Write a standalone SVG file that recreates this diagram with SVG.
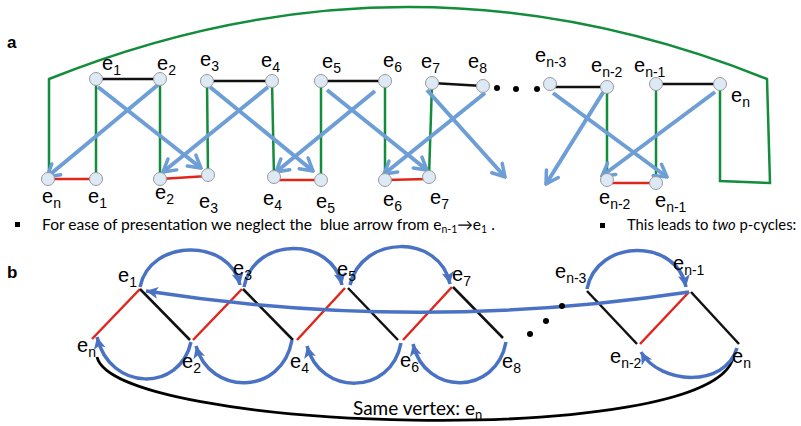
<svg xmlns="http://www.w3.org/2000/svg" width="801" height="426" viewBox="0 0 801 426">
<style>
.lbl{font-family:"Liberation Sans",Arial,sans-serif;font-size:20px;fill:#000}
.sub{font-size:14px}
.panel{font-family:"Liberation Sans",Arial,sans-serif;font-size:17px;font-weight:bold;fill:#000}
.body{font-family:Lato,"Open Sans",sans-serif;font-size:15.6px;fill:#000;white-space:pre}
.nd{fill:#dde9f5;stroke:#9a9a9a;stroke-width:1}
.blk{stroke:#111;stroke-width:2.5;fill:none}
.red{stroke:#e0261c;stroke-width:2.5;fill:none}
.grn{stroke:#138c3c;stroke-width:2.5;fill:none}
.ba{stroke:#6e9ed6;stroke-width:4;fill:none;marker-end:url(#va)}
.bb{stroke:#4a72c4;stroke-width:3.5;fill:none;marker-end:url(#tb)}
</style>
<defs>
<marker id="va" viewBox="-14 -9 16 18" refX="0" refY="0" markerWidth="16" markerHeight="18" markerUnits="userSpaceOnUse" orient="auto">
<path d="M-12,-7 L0,0 L-12,7" fill="none" stroke="#6e9ed6" stroke-width="3.5" stroke-linecap="round"/>
</marker>
<marker id="tb" viewBox="-13 -7 14 14" refX="0" refY="0" markerWidth="14" markerHeight="14" markerUnits="userSpaceOnUse" orient="auto">
<path d="M-12,-6 L0,0 L-12,6 L-9,0 z" fill="#4a72c4"/>
</marker>
</defs>
<rect width="801" height="426" fill="#fff"/>

<text class="panel" x="7" y="48">a</text>
<text class="panel" x="7" y="278">b</text>

<g id="connectors">
  <!-- panel a -->
  <path class="grn" d="M720,84 L720,181 L770,183 L767,79 Q408,-65 49,79 L49,177"/>
  <line class="grn" x1="96" y1="79" x2="96" y2="179"/>
  <line class="grn" x1="160" y1="79" x2="160" y2="179"/>
  <line class="grn" x1="207" y1="81" x2="208" y2="174"/>
  <line class="grn" x1="272" y1="81" x2="274" y2="177"/>
  <line class="grn" x1="321" y1="81" x2="321" y2="180"/>
  <line class="grn" x1="385" y1="81" x2="385" y2="180"/>
  <line class="grn" x1="432" y1="83" x2="429" y2="177"/>
  <line class="grn" x1="607" y1="87" x2="607" y2="180"/>
  <line class="grn" x1="656" y1="84" x2="656" y2="183"/>
  <line class="blk" x1="96" y1="79" x2="160" y2="79"/>
  <line class="blk" x1="207" y1="81" x2="272" y2="81"/>
  <line class="blk" x1="321" y1="81" x2="385" y2="81"/>
  <line class="blk" x1="432" y1="83" x2="483" y2="86"/>
  <line class="blk" x1="550" y1="87" x2="607" y2="87"/>
  <line class="blk" x1="656" y1="84" x2="720" y2="84"/>
  <line class="red" x1="48" y1="179" x2="96" y2="179"/>
  <line class="red" x1="160" y1="179" x2="208" y2="176"/>
  <line class="red" x1="274" y1="180" x2="321" y2="180"/>
  <line class="red" x1="385" y1="180" x2="429" y2="179"/>
  <line class="red" x1="607" y1="183" x2="656" y2="183"/>
  <line class="ba" x1="159" y1="84" x2="47" y2="177"/>
  <line class="ba" x1="98" y1="87" x2="201" y2="168"/>
  <line class="ba" x1="268" y1="87" x2="163" y2="172"/>
  <line class="ba" x1="210" y1="87" x2="313" y2="171"/>
  <line class="ba" x1="375" y1="91" x2="276" y2="172"/>
  <line class="ba" x1="327" y1="90" x2="427" y2="170"/>
  <line class="ba" x1="485" y1="93" x2="384" y2="174"/>
  <line class="ba" x1="427" y1="90" x2="505" y2="177"/>
  <line class="ba" x1="604" y1="91" x2="546" y2="184"/>
  <line class="ba" x1="553" y1="93" x2="667" y2="177"/>
  <line class="ba" x1="715" y1="92" x2="602" y2="176"/>
  <!-- panel b -->
  <path d="M97,357 C115,432 710,450 733,358" fill="none" stroke="#000" stroke-width="2.8"/>
  <line class="red" x1="92" y1="339" x2="140" y2="289"/>
  <line class="blk" x1="140" y1="289" x2="190" y2="340"/>
  <line class="red" x1="193" y1="340" x2="242" y2="289"/>
  <line class="blk" x1="243" y1="289" x2="293" y2="340"/>
  <line class="red" x1="297" y1="340" x2="345" y2="288"/>
  <line class="blk" x1="348" y1="288" x2="398" y2="340"/>
  <line class="red" x1="403" y1="340" x2="452" y2="287"/>
  <line class="blk" x1="453" y1="287" x2="503" y2="338"/>
  <line class="blk" x1="587" y1="291" x2="637" y2="344"/>
  <line class="red" x1="640" y1="344" x2="689" y2="292"/>
  <line class="blk" x1="691" y1="292" x2="739" y2="344"/>
  <path class="bb" d="M140,287 C150,238 230,238 240,285"/>
  <path class="bb" d="M244,287 C254,236 332,236 342,285"/>
  <path class="bb" d="M350,285 C362,234 440,234 450,284"/>
  <path class="bb" d="M587,289 C597,238 677,238 686,287"/>
  <path class="bb" d="M191,342 C180,392 110,392 97,337"/>
  <path class="bb" d="M292,340 C282,396 210,396 196,346"/>
  <path class="bb" d="M401,343 C391,396 320,396 307,346"/>
  <path class="bb" d="M506,342 C496,396 425,396 413,344"/>
  <path class="bb" d="M737,348 C725,388 660,385 641,352"/>
  <path class="bb" d="M689,292 Q416,333 146,291"/>
</g>

<g id="dots" fill="#000">
  <circle cx="497" cy="88" r="3"/>
  <circle cx="516" cy="89" r="3"/>
  <circle cx="537" cy="89" r="3"/>
  <circle cx="562" cy="306" r="3"/>
  <circle cx="546" cy="321" r="3"/>
  <circle cx="530" cy="334" r="3"/>
</g>

<!-- panel a nodes -->
<g id="a-e1-top"><circle class="nd" cx="96" cy="79" r="6.5"/><text class="lbl" x="102" y="70">e<tspan class="sub" dy="5">1</tspan></text></g>
<g id="a-e2-top"><circle class="nd" cx="160" cy="79" r="6.5"/><text class="lbl" x="157" y="70">e<tspan class="sub" dy="5">2</tspan></text></g>
<g id="a-e3-top"><circle class="nd" cx="207" cy="81" r="6.5"/><text class="lbl" x="200" y="66">e<tspan class="sub" dy="5">3</tspan></text></g>
<g id="a-e4-top"><circle class="nd" cx="272" cy="81" r="6.5"/><text class="lbl" x="261" y="67">e<tspan class="sub" dy="5">4</tspan></text></g>
<g id="a-e5-top"><circle class="nd" cx="321" cy="81" r="6.5"/><text class="lbl" x="322" y="68">e<tspan class="sub" dy="5">5</tspan></text></g>
<g id="a-e6-top"><circle class="nd" cx="385" cy="81" r="6.5"/><text class="lbl" x="383" y="67">e<tspan class="sub" dy="5">6</tspan></text></g>
<g id="a-e7-top"><circle class="nd" cx="432" cy="83" r="6.5"/><text class="lbl" x="421" y="68">e<tspan class="sub" dy="5">7</tspan></text></g>
<g id="a-e8-top"><circle class="nd" cx="483" cy="86" r="6.5"/><text class="lbl" x="468" y="68">e<tspan class="sub" dy="5">8</tspan></text></g>
<g id="a-en3-top"><circle class="nd" cx="550" cy="84" r="6.5"/><text class="lbl" x="535" y="62">e<tspan class="sub" dy="5">n-3</tspan></text></g>
<g id="a-en2-top"><circle class="nd" cx="607" cy="87" r="6.5"/><text class="lbl" x="591" y="72">e<tspan class="sub" dy="5">n-2</tspan></text></g>
<g id="a-en1-top"><circle class="nd" cx="656" cy="84" r="6.5"/><text class="lbl" x="634" y="72">e<tspan class="sub" dy="5">n-1</tspan></text></g>
<g id="a-en-top"><circle class="nd" cx="720" cy="84" r="6.5"/><text class="lbl" x="731" y="102">e<tspan class="sub" dy="5">n</tspan></text></g>

<g id="a-en-bot"><circle class="nd" cx="48" cy="179" r="6.5"/><text class="lbl" x="42" y="203">e<tspan class="sub" dy="5">n</tspan></text></g>
<g id="a-e1-bot"><circle class="nd" cx="96" cy="179" r="6.5"/><text class="lbl" x="88" y="203">e<tspan class="sub" dy="5">1</tspan></text></g>
<g id="a-e2-bot"><circle class="nd" cx="160" cy="179" r="6.5"/><text class="lbl" x="155" y="199">e<tspan class="sub" dy="5">2</tspan></text></g>
<g id="a-e3-bot"><circle class="nd" cx="208" cy="175" r="6.5"/><text class="lbl" x="199" y="208">e<tspan class="sub" dy="5">3</tspan></text></g>
<g id="a-e4-bot"><circle class="nd" cx="274" cy="177" r="6.5"/><text class="lbl" x="263" y="205">e<tspan class="sub" dy="5">4</tspan></text></g>
<g id="a-e5-bot"><circle class="nd" cx="321" cy="180" r="6.5"/><text class="lbl" x="316" y="208">e<tspan class="sub" dy="5">5</tspan></text></g>
<g id="a-e6-bot"><circle class="nd" cx="385" cy="180" r="6.5"/><text class="lbl" x="383" y="206">e<tspan class="sub" dy="5">6</tspan></text></g>
<g id="a-e7-bot"><circle class="nd" cx="429" cy="177" r="6.5"/><text class="lbl" x="430" y="204">e<tspan class="sub" dy="5">7</tspan></text></g>
<g id="a-en2-bot"><circle class="nd" cx="607" cy="180" r="6.5"/><text class="lbl" x="599" y="204">e<tspan class="sub" dy="5">n-2</tspan></text></g>
<g id="a-en1-bot"><circle class="nd" cx="656" cy="183" r="6.5"/><text class="lbl" x="655" y="207">e<tspan class="sub" dy="5">n-1</tspan></text></g>

<g id="notes">
  <rect x="15" y="222" width="5" height="5" fill="#000"/>
  <text class="body" x="42" y="230" xml:space="preserve">For ease of presentation we neglect the  blue arrow from e<tspan font-size="10.5" dy="3">n-1</tspan><tspan dy="-3">→e</tspan><tspan font-size="10.5" dy="3">1</tspan><tspan dy="-3"> .</tspan></text>
  <rect x="600" y="223" width="5" height="5" fill="#000"/>
  <text class="body" x="627" y="230" style="font-size:14.8px">This leads to <tspan font-style="italic">two</tspan> p-cycles:</text>
</g>

<!-- panel b nodes -->
<g id="b-e1"><text class="lbl" x="118" y="282">e<tspan class="sub" dy="5">1</tspan></text></g>
<g id="b-e3"><text class="lbl" x="233" y="275">e<tspan class="sub" dy="5">3</tspan></text></g>
<g id="b-e5"><text class="lbl" x="337" y="276">e<tspan class="sub" dy="5">5</tspan></text></g>
<g id="b-e7"><text class="lbl" x="452" y="281">e<tspan class="sub" dy="5">7</tspan></text></g>
<g id="b-en3"><text class="lbl" x="555" y="278">e<tspan class="sub" dy="5">n-3</tspan></text></g>
<g id="b-en1"><text class="lbl" x="673" y="270">e<tspan class="sub" dy="5">n-1</tspan></text></g>
<g id="b-en-left"><text class="lbl" x="77" y="352">e<tspan class="sub" dy="5">n</tspan></text></g>
<g id="b-e2"><text class="lbl" x="182" y="368">e<tspan class="sub" dy="5">2</tspan></text></g>
<g id="b-e4"><text class="lbl" x="290" y="368">e<tspan class="sub" dy="5">4</tspan></text></g>
<g id="b-e6"><text class="lbl" x="400" y="367">e<tspan class="sub" dy="5">6</tspan></text></g>
<g id="b-e8"><text class="lbl" x="502" y="368">e<tspan class="sub" dy="5">8</tspan></text></g>
<g id="b-en2"><text class="lbl" x="610" y="363">e<tspan class="sub" dy="5">n-2</tspan></text></g>
<g id="b-en-right"><text class="lbl" x="732" y="363">e<tspan class="sub" dy="5">n</tspan></text></g>

<text class="body" x="353" y="415" style="font-size:19px">Same vertex: e<tspan font-size="13" dy="4">n</tspan></text>
</svg>
